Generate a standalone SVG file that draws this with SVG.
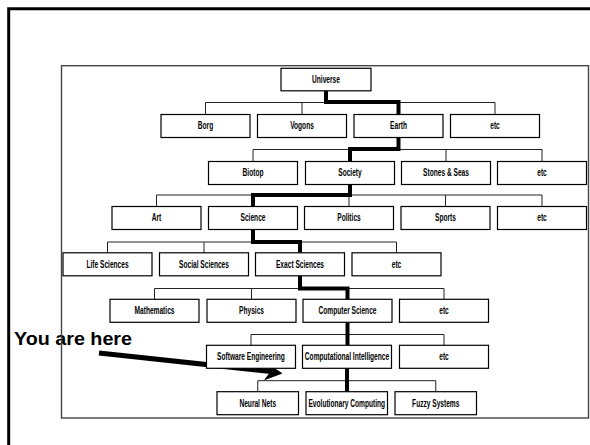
<svg xmlns="http://www.w3.org/2000/svg" width="590" height="445" viewBox="0 0 590 445">
<style>
.bx{fill:#fff;stroke:#000;stroke-width:1.2}
.lb{font-family:"Liberation Sans",Arial,sans-serif;font-weight:bold;font-size:10px;text-anchor:middle;fill:#000}
.thin{fill:none;stroke:#222;stroke-width:1}
.thick{fill:none;stroke:#000;stroke-width:4;stroke-linejoin:miter}
</style>
<defs>
<g id="box"><rect class="bx" x="0" y="0" width="89" height="23"/></g>
<g id="box8"><rect class="bx" x="0" y="0" width="81.5" height="23"/></g>
</defs>
<rect x="0" y="0" width="590" height="445" fill="#fff"/>
<path d="M8.7,445 V8.7 H590" fill="none" stroke="#000" stroke-width="3"/>

<text x="14" y="345" font-family="Liberation Sans, Arial, sans-serif" font-weight="bold" font-size="19" textLength="118" lengthAdjust="spacingAndGlyphs">You are here</text>

<rect x="61.5" y="65.7" width="527" height="352.3" fill="none" stroke="#444" stroke-width="1.4"/>

<g id="connectors">
<path class="thin" d="M205.5,102.5 H495 M205.5,102.5 V114.5 M302,102.5 V114.5 M398.5,102.5 V114.5 M495,102.5 V114.5"/>
<path class="thin" d="M253,149.5 H542 M253,149.5 V161.5 M350,149.5 V161.5 M446,149.5 V161.5 M542,149.5 V161.5"/>
<path class="thin" d="M156.5,195 H542 M156.5,195 V206.5 M253,195 V206.5 M349,195 V206.5 M445.5,195 V206.5 M542,195 V206.5"/>
<path class="thin" d="M107.5,242 H396.5 M107.5,242 V252.8 M204,242 V252.8 M300,242 V252.8 M396.5,242 V252.8"/>
<path class="thin" d="M154.5,288.5 H444 M154.5,288.5 V299.3 M251.5,288.5 V299.3 M347.5,288.5 V299.3 M444,288.5 V299.3"/>
<path class="thin" d="M251,334.5 H444 M251,334.5 V345.3 M347,334.5 V345.3 M444,334.5 V345.3"/>
<path class="thin" d="M257.75,380.7 H435.75 M257.75,380.7 V391.7 M346.75,380.7 V391.7 M435.75,380.7 V391.7"/>
<path class="thick" d="M326,91 V102 H398.5 V114.5 M398.5,137.5 V149 H350 V161.5 M350,184.5 V195 H253 V206.5 M253,229.5 V242 H300 V252.8 M300,275.8 V288.5 H347.5 V299.3 M347.5,322.3 V345.3 M347,368.3 V391.7"/>
<path d="M99,353 L271,371.5" stroke="#000" stroke-width="5" fill="none"/>
<polygon points="281.7,373.3 266.7,363.6 270.8,372.1 264.9,379.5" fill="#000" stroke="#000" stroke-width="1"/>
</g>

<g id="n-universe"><rect class="bx" x="281" y="68.3" width="90" height="22.5"/><text class="lb" transform="translate(326,83.1) scale(0.66,1)">Universe</text></g>

<g id="n-borg"><use href="#box" x="161" y="114.5"/><text class="lb" transform="translate(205.5,129.4) scale(0.66,1)">Borg</text></g>
<g id="n-vogons"><use href="#box" x="257.5" y="114.5"/><text class="lb" transform="translate(302,129.4) scale(0.66,1)">Vogons</text></g>
<g id="n-earth"><use href="#box" x="354" y="114.5"/><text class="lb" transform="translate(398.5,129.4) scale(0.66,1)">Earth</text></g>
<g id="n-etc1"><use href="#box" x="450.5" y="114.5"/><text class="lb" transform="translate(495,129.4) scale(0.66,1)">etc</text></g>

<g id="n-biotop"><use href="#box" x="208.5" y="161.5"/><text class="lb" transform="translate(253,176.4) scale(0.66,1)">Biotop</text></g>
<g id="n-society"><use href="#box" x="305.5" y="161.5"/><text class="lb" transform="translate(350,176.4) scale(0.66,1)">Society</text></g>
<g id="n-stones"><use href="#box" x="401.5" y="161.5"/><text class="lb" transform="translate(446,176.4) scale(0.66,1)">Stones &amp; Seas</text></g>
<g id="n-etc2"><use href="#box" x="497.5" y="161.5"/><text class="lb" transform="translate(542,176.4) scale(0.66,1)">etc</text></g>

<g id="n-art"><use href="#box" x="112" y="206.5"/><text class="lb" transform="translate(156.5,221.4) scale(0.66,1)">Art</text></g>
<g id="n-science"><use href="#box" x="208.5" y="206.5"/><text class="lb" transform="translate(253,221.4) scale(0.66,1)">Science</text></g>
<g id="n-politics"><use href="#box" x="304.5" y="206.5"/><text class="lb" transform="translate(349,221.4) scale(0.66,1)">Politics</text></g>
<g id="n-sports"><use href="#box" x="401" y="206.5"/><text class="lb" transform="translate(445.5,221.4) scale(0.66,1)">Sports</text></g>
<g id="n-etc3"><use href="#box" x="497.5" y="206.5"/><text class="lb" transform="translate(542,221.4) scale(0.66,1)">etc</text></g>

<g id="n-life"><use href="#box" x="63" y="252.8"/><text class="lb" transform="translate(107.5,267.7) scale(0.66,1)">Life Sciences</text></g>
<g id="n-social"><use href="#box" x="159.5" y="252.8"/><text class="lb" transform="translate(204,267.7) scale(0.66,1)">Social Sciences</text></g>
<g id="n-exact"><use href="#box" x="255.5" y="252.8"/><text class="lb" transform="translate(300,267.7) scale(0.66,1)">Exact Sciences</text></g>
<g id="n-etc4"><use href="#box" x="352" y="252.8"/><text class="lb" transform="translate(396.5,267.7) scale(0.66,1)">etc</text></g>

<g id="n-math"><use href="#box" x="110" y="299.3"/><text class="lb" transform="translate(154.5,314.2) scale(0.66,1)">Mathematics</text></g>
<g id="n-physics"><use href="#box" x="207" y="299.3"/><text class="lb" transform="translate(251.5,314.2) scale(0.66,1)">Physics</text></g>
<g id="n-cs"><use href="#box" x="303" y="299.3"/><text class="lb" transform="translate(347.5,314.2) scale(0.66,1)">Computer Science</text></g>
<g id="n-etc5"><use href="#box" x="399.5" y="299.3"/><text class="lb" transform="translate(444,314.2) scale(0.66,1)">etc</text></g>

<g id="n-se"><use href="#box" x="206.5" y="345.3"/><text class="lb" transform="translate(251,360.2) scale(0.66,1)">Software Engineering</text></g>
<g id="n-ci"><use href="#box" x="302.5" y="345.3"/><text class="lb" transform="translate(347,360.2) scale(0.66,1)">Computational Intelligence</text></g>
<g id="n-etc6"><use href="#box" x="399.5" y="345.3"/><text class="lb" transform="translate(444,360.2) scale(0.66,1)">etc</text></g>

<g id="n-nn"><use href="#box8" x="217" y="391.7"/><text class="lb" transform="translate(257.75,406.6) scale(0.66,1)">Neural Nets</text></g>
<g id="n-ec"><use href="#box8" x="306" y="391.7"/><text class="lb" transform="translate(346.75,406.6) scale(0.66,1)">Evolutionary Computing</text></g>
<g id="n-fs"><use href="#box8" x="395" y="391.7"/><text class="lb" transform="translate(435.75,406.6) scale(0.66,1)">Fuzzy Systems</text></g>
</svg>
